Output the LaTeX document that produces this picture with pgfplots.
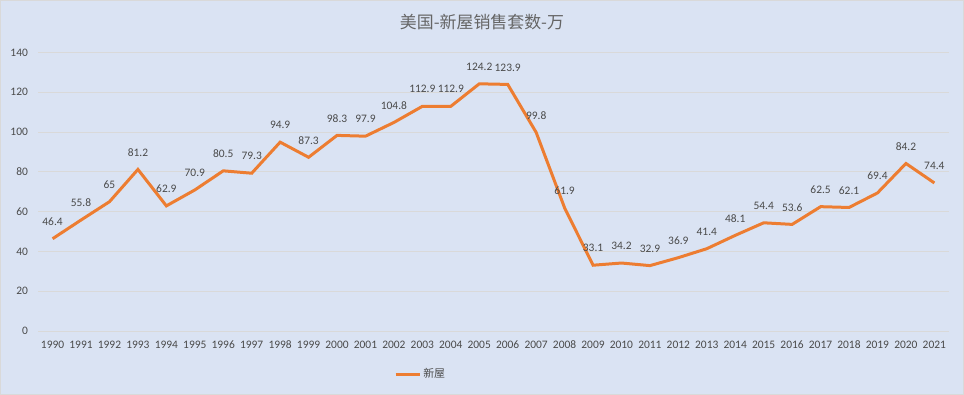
\documentclass[border=0pt]{standalone}
\usepackage{pgfplots}
\pgfplotsset{compat=1.18}
\usepackage{pgfplotstable}
\usepackage{fontspec}
\setmainfont{Carlito}
\newfontfamily\cjk{Noto Sans CJK SC}
\definecolor{bg}{HTML}{DAE3F3}
\definecolor{gridc}{HTML}{D9D9D9}
\definecolor{txt}{HTML}{4A4A4A}
\definecolor{line}{HTML}{ED7D31}
\pgfplotstableread{
year val lab
1990 46.4 46.4
1991 55.8 55.8
1992 65 65
1993 81.2 81.2
1994 62.9 62.9
1995 70.9 70.9
1996 80.5 80.5
1997 79.3 79.3
1998 94.9 94.9
1999 87.3 87.3
2000 98.3 98.3
2001 97.9 97.9
2002 104.8 104.8
2003 112.9 112.9
2004 112.9 112.9
2005 124.2 124.2
2006 123.9 123.9
2007 99.8 99.8
2008 61.9 61.9
2009 33.1 33.1
2010 34.2 34.2
2011 32.9 32.9
2012 36.9 36.9
2013 41.4 41.4
2014 48.1 48.1
2015 54.4 54.4
2016 53.6 53.6
2017 62.5 62.5
2018 62.1 62.1
2019 69.4 69.4
2020 84.2 84.2
2021 74.4 74.4
}\datatab
\begin{document}
\begin{tikzpicture}
\path[use as bounding box, fill=bg, draw=gridc, line width=0.8bp] (-38bp,-63bp) rectangle (926bp,331bp);
\node[font=\cjk\fontsize{17}{20}\selectfont, text=txt!85] at (444bp,309bp) {美国-新屋销售套数-万};
\begin{axis}[
  at={(0,0)}, anchor=south west,
  scale only axis, width=911bp, height=279bp,
  xmin=1989.5, xmax=2021.5,
  ymin=0, ymax=140,
  xtick={1990,...,2021},
  ytick={0,20,...,140},
  axis line style={draw=none},
  tick style={draw=none},
  ymajorgrids,
  grid style={gridc, line width=0.8bp},
  /pgf/number format/assume math mode=true,
  /pgf/number format/1000 sep={},
  xticklabel style={font=\fontsize{11.5}{13}\selectfont, text=txt, yshift=-6bp},
  yticklabel style={font=\fontsize{11.5}{13}\selectfont, text=txt, xshift=-7bp},
  legend style={at={(0.42,-0.154)}, anchor=center, draw=none, fill=none,
    font=\cjk\fontsize{11}{13}\selectfont, text=txt},
  legend image code/.code={\draw[#1, line width=3bp] (0cm,0cm) -- (0.85cm,0cm);},
  clip=false,
]
\addplot[line, line width=3bp, mark=none,
  nodes near coords, point meta=explicit symbolic,
  every node near coord/.append style={font=\fontsize{11.5}{13}\selectfont, text=txt, anchor=center, yshift=17bp}]
  table[x=year, y=val, meta=lab] {\datatab};
\addlegendentry{新屋}
\end{axis}
\end{tikzpicture}
\end{document}
